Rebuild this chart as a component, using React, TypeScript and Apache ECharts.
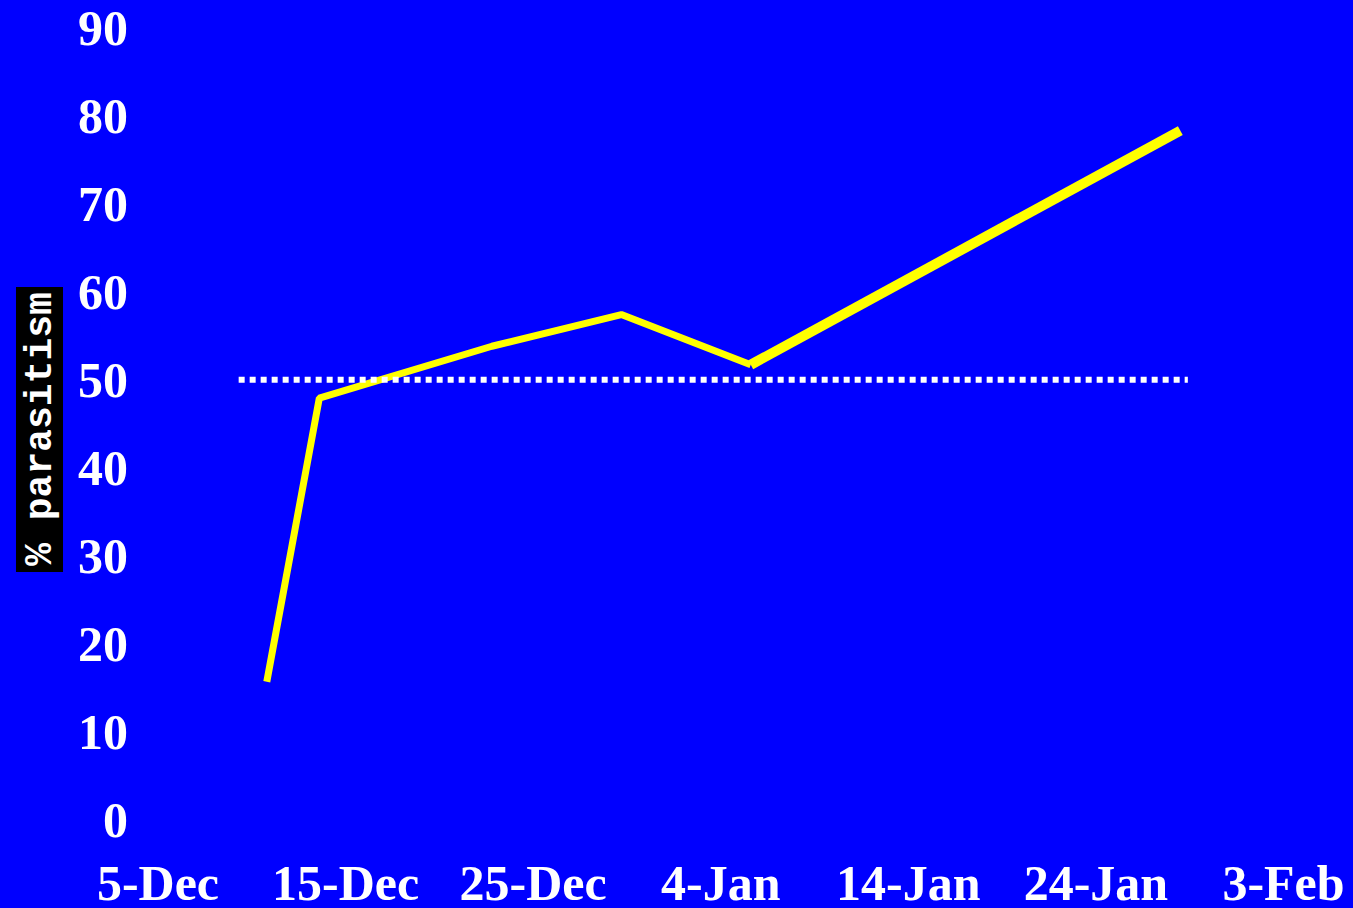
import React, { useEffect, useRef } from "react";
import * as echarts from "echarts";

// x values are days after 5-Dec
const xTickLabels = ["5-Dec", "15-Dec", "25-Dec", "4-Jan", "14-Jan", "24-Jan", "3-Feb"];
const parasitismDays = [5.8, 8.6, 17.8, 24.7, 31.6];
const parasitismValues = [15.7, 47.9, 53.8, 57.4, 51.7];
const lateDays = [31.6, 54.5];
const lateValues = [51.7, 78.3];
const thresholdDays = [4.3, 54.9];
const thresholdValues = [50, 50];

const FONT = "'Liberation Serif', 'Times New Roman', serif";

export default function App() {
  const ref = useRef<HTMLDivElement>(null);
  useEffect(() => {
    if (!ref.current) return;
    const chart = echarts.init(ref.current, undefined, { renderer: "svg" });
    const label = {
      color: "#ffffff",
      fontFamily: FONT,
      fontWeight: "bold" as const,
      fontSize: 50,
    };
    chart.setOption({
      animation: false,
      backgroundColor: "#0000ff",
      grid: { left: 158, right: 69.5, top: 27.5, bottom: 84 },
      xAxis: {
        type: "value",
        min: 0,
        max: 60,
        interval: 10,
        axisLine: { show: false },
        axisTick: { show: false },
        splitLine: { show: false },
        axisLabel: {
          ...label,
          lineHeight: 30,
          margin: 48,
          formatter: (v: number) => xTickLabels[Math.round(v / 10)] ?? "",
        },
      },
      yAxis: {
        type: "value",
        min: 0,
        max: 90,
        interval: 10,
        axisLine: { show: false },
        axisTick: { show: false },
        splitLine: { show: false },
        axisLabel: { ...label, lineHeight: 40, margin: 30 },
      },
      graphic: [
        {
          type: "rect",
          shape: { x: 16, y: 287, width: 47, height: 285 },
          style: { fill: "#000000" },
        },
        {
          type: "text",
          x: 40,
          y: 429,
          rotation: Math.PI / 2,
          style: {
            text: "% parasitism",
            fill: "#ffffff",
            font: "bold 38px 'Liberation Mono', 'Courier New', monospace",
            textAlign: "center",
            textVerticalAlign: "middle",
          },
        },
      ],
      series: [
        {
          type: "line",
          data: parasitismDays.map((d, i) => [d, parasitismValues[i]]),
          symbol: "none",
          lineStyle: { color: "#ffff00", width: 7 },
          z: 2,
        },
        {
          type: "line",
          data: lateDays.map((d, i) => [d, lateValues[i]]),
          symbol: "none",
          lineStyle: { color: "#ffff00", width: 10 },
          z: 2,
        },
        {
          type: "line",
          data: thresholdDays.map((d, i) => [d, thresholdValues[i]]),
          symbol: "none",
          lineStyle: { color: "#ffffff", width: 6, type: [6, 5], cap: "butt" },
          z: 3,
        },
      ],
    });
    return () => chart.dispose();
  }, []);
  return (
    <div
      ref={ref}
      style={{ position: "absolute", left: 0, top: 0, width: 1353, height: 908 }}
    />
  );
}
